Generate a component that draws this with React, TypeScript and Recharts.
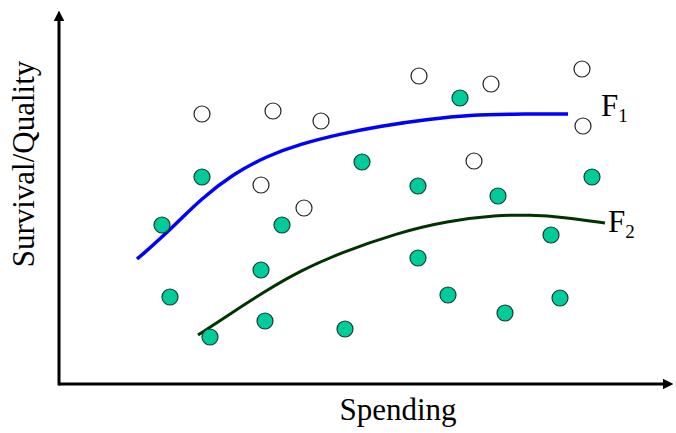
import React from "react";
import { ComposedChart, Line, Scatter, XAxis, YAxis } from "recharts";

// units: x = spending, y = survival/quality (arbitrary)
const openPoints = [
  { x: 143, y: 270 }, { x: 214, y: 273 }, { x: 262, y: 263 }, { x: 202, y: 199 },
  { x: 245, y: 176 }, { x: 360, y: 308 }, { x: 432, y: 300 }, { x: 523, y: 315 },
  { x: 524, y: 258 }, { x: 415, y: 223 },
];

const filledPoints = [
  { x: 143, y: 207 }, { x: 103, y: 159 }, { x: 223, y: 159 }, { x: 111, y: 87 },
  { x: 202, y: 114 }, { x: 206, y: 63 }, { x: 151, y: 47 }, { x: 286, y: 55 },
  { x: 401, y: 286 }, { x: 303, y: 222 }, { x: 359, y: 198 }, { x: 439, y: 188 },
  { x: 533, y: 207 }, { x: 359, y: 126 }, { x: 389, y: 89 }, { x: 446, y: 71 },
  { x: 501, y: 86 }, { x: 492, y: 149 },
];

const frontier1 = [
  { x: 78, y: 125 }, { x: 84, y: 130 }, { x: 101, y: 145 }, { x: 121, y: 164 },
  { x: 141, y: 184 }, { x: 174, y: 210 }, { x: 208, y: 228 }, { x: 241, y: 240 },
  { x: 281, y: 250 }, { x: 321, y: 258 }, { x: 371, y: 265 }, { x: 411, y: 269 },
  { x: 451, y: 270 }, { x: 509, y: 270 },
];

const frontier2 = [
  { x: 139, y: 49 }, { x: 174, y: 72 }, { x: 208, y: 94 }, { x: 241, y: 113 },
  { x: 281, y: 131 }, { x: 338, y: 151 }, { x: 388, y: 163 },
  { x: 438, y: 169 }, { x: 471, y: 169 }, { x: 504, y: 167 }, { x: 546, y: 161 },
];

const FONT = "'Liberation Serif', 'Times New Roman', serif";

const openDot = (p: any) => (
  <circle cx={p.cx} cy={p.cy} r={8} fill="#fff" stroke="#222" strokeWidth={1.2} />
);
const filledDot = (p: any) => (
  <circle cx={p.cx} cy={p.cy} r={8} fill="#00CC99" stroke="#1a3a30" strokeWidth={1.2} />
);

const endLabel = (sub: string, len: number, dx: number, dy: number) => (props: any) => {
  if (props.index !== len - 1) return null;
  return (
    <text key={sub} x={props.x + dx} y={props.y + dy} fontFamily={FONT} fontSize={31} fill="#000">
      F<tspan fontSize={19} dy={6}>{sub}</tspan>
    </text>
  );
};

export default function App() {
  return (
    <div style={{ position: "absolute", left: 0, top: 0, width: 676, height: 433, background: "#fff" }}>
      <ComposedChart width={676} height={433} margin={{ top: 10, right: 4, bottom: 49, left: 59 }}>
        <XAxis type="number" dataKey="x" domain={[0, 613]} hide />
        <YAxis type="number" dataKey="y" domain={[0, 374]} hide />
        <Line
          data={frontier1}
          dataKey="y"
          type="basis"
          stroke="#0000FF"
          strokeWidth={3.5}
          dot={false}
          isAnimationActive={false}
          label={endLabel("1", frontier1.length, 33, 2)}
        />
        <Line
          data={frontier2}
          dataKey="y"
          type="basis"
          stroke="#003300"
          strokeWidth={3}
          dot={false}
          isAnimationActive={false}
          label={endLabel("2", frontier2.length, 3, 9)}
        />
        <Scatter data={openPoints} dataKey="y" shape={openDot} isAnimationActive={false} />
        <Scatter data={filledPoints} dataKey="y" shape={filledDot} isAnimationActive={false} />
      </ComposedChart>
      <svg
        width={676}
        height={433}
        style={{ position: "absolute", left: 0, top: 0, pointerEvents: "none" }}
      >
        <defs>
          <marker id="arrowHead" viewBox="0 0 10 10" refX="1" refY="5" markerWidth="3.5" markerHeight="3.5" orient="auto">
            <path d="M0,0 L10,5 L0,10 z" fill="#000" />
          </marker>
        </defs>
        {/* axes */}
        <line x1={59} y1={384} x2={664} y2={384} stroke="#000" strokeWidth={3} markerEnd="url(#arrowHead)" />
        <line x1={59} y1={385.5} x2={59} y2={20} stroke="#000" strokeWidth={3} markerEnd="url(#arrowHead)" />
        <text x={398} y={420} textAnchor="middle" fontFamily={FONT} fontSize={31} fill="#000">
          Spending
        </text>
        <text
          x={34}
          y={164}
          textAnchor="middle"
          fontFamily={FONT}
          fontSize={31}
          fill="#000"
          transform="rotate(-90 34 164)"
        >
          Survival/Quality
        </text>
      </svg>
    </div>
  );
}
